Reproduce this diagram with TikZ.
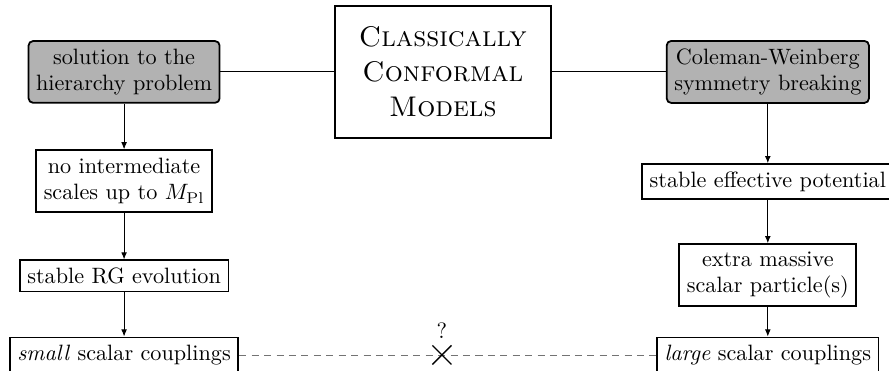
\documentclass[tikz,border=0pt]{standalone}
\usetikzlibrary{arrows.meta,shapes.misc}
\tikzset{
  box/.style={draw, thick, align=center, inner sep=3.4pt},
  graybox/.style={box, fill=black!30, rounded corners=2pt},
  titlebox/.style={draw, thick, align=center, minimum width=97.3pt, minimum height=59.5pt,
    font=\fontsize{12.8}{15.8}\selectfont\scshape},
  link/.style={draw, thin},
  arr/.style={draw, thin, -{Latex[length=3.2pt,width=2.6pt]}},
  dashlink/.style={draw, thin, black!55, dash pattern=on 3.2pt off 2.4pt},
  crossmark/.style={cross out, draw=black, semithick, minimum size=8pt, inner sep=0pt},
}
\begin{document}
\begin{tikzpicture}[x=1pt,y=1pt]
\useasboundingbox (0,0) rectangle (400.5,-167.1);
\node[titlebox] (ccm) at (199.5,-32.4) {Classically\\Conformal\\Models};
\node[graybox] (sol) at (55.9,-32.4) {solution to the\\hierarchy problem};
\node[graybox] (cw) at (345.9,-32.4) {Coleman-Weinberg\\symmetry breaking};
\node[box] (nis) at (55.9,-81.5) {no intermediate\\scales up to $M_{\mathrm{Pl}}$};
\node[box] (rg) at (55.9,-124.3) {stable RG evolution};
\node[box] (small) at (55.9,-159.9) {\textit{small} scalar couplings};
\node[box] (sep) at (345.9,-81.8) {stable effective potential};
\node[box] (ems) at (345.9,-123.9) {extra massive\\scalar particle(s)};
\node[box] (large) at (345.9,-159.9) {\textit{large} scalar couplings};
\path[link] (sol.east) -- (ccm.west);
\path[link] (ccm.east) -- (cw.west);
\path[arr] (sol) -- (nis);
\path[arr] (nis) -- (rg);
\path[arr] (rg) -- (small);
\path[arr] (cw) -- (sep);
\path[arr] (sep) -- (ems);
\path[arr] (ems) -- (large);
\path[dashlink] (small.east) -- (large.west);
\node[crossmark] (cx) at (199.1,-159.9) {};
\node[anchor=south, inner sep=0pt] (q) at ([yshift=3pt]cx.north) {?};
\end{tikzpicture}
\end{document}
